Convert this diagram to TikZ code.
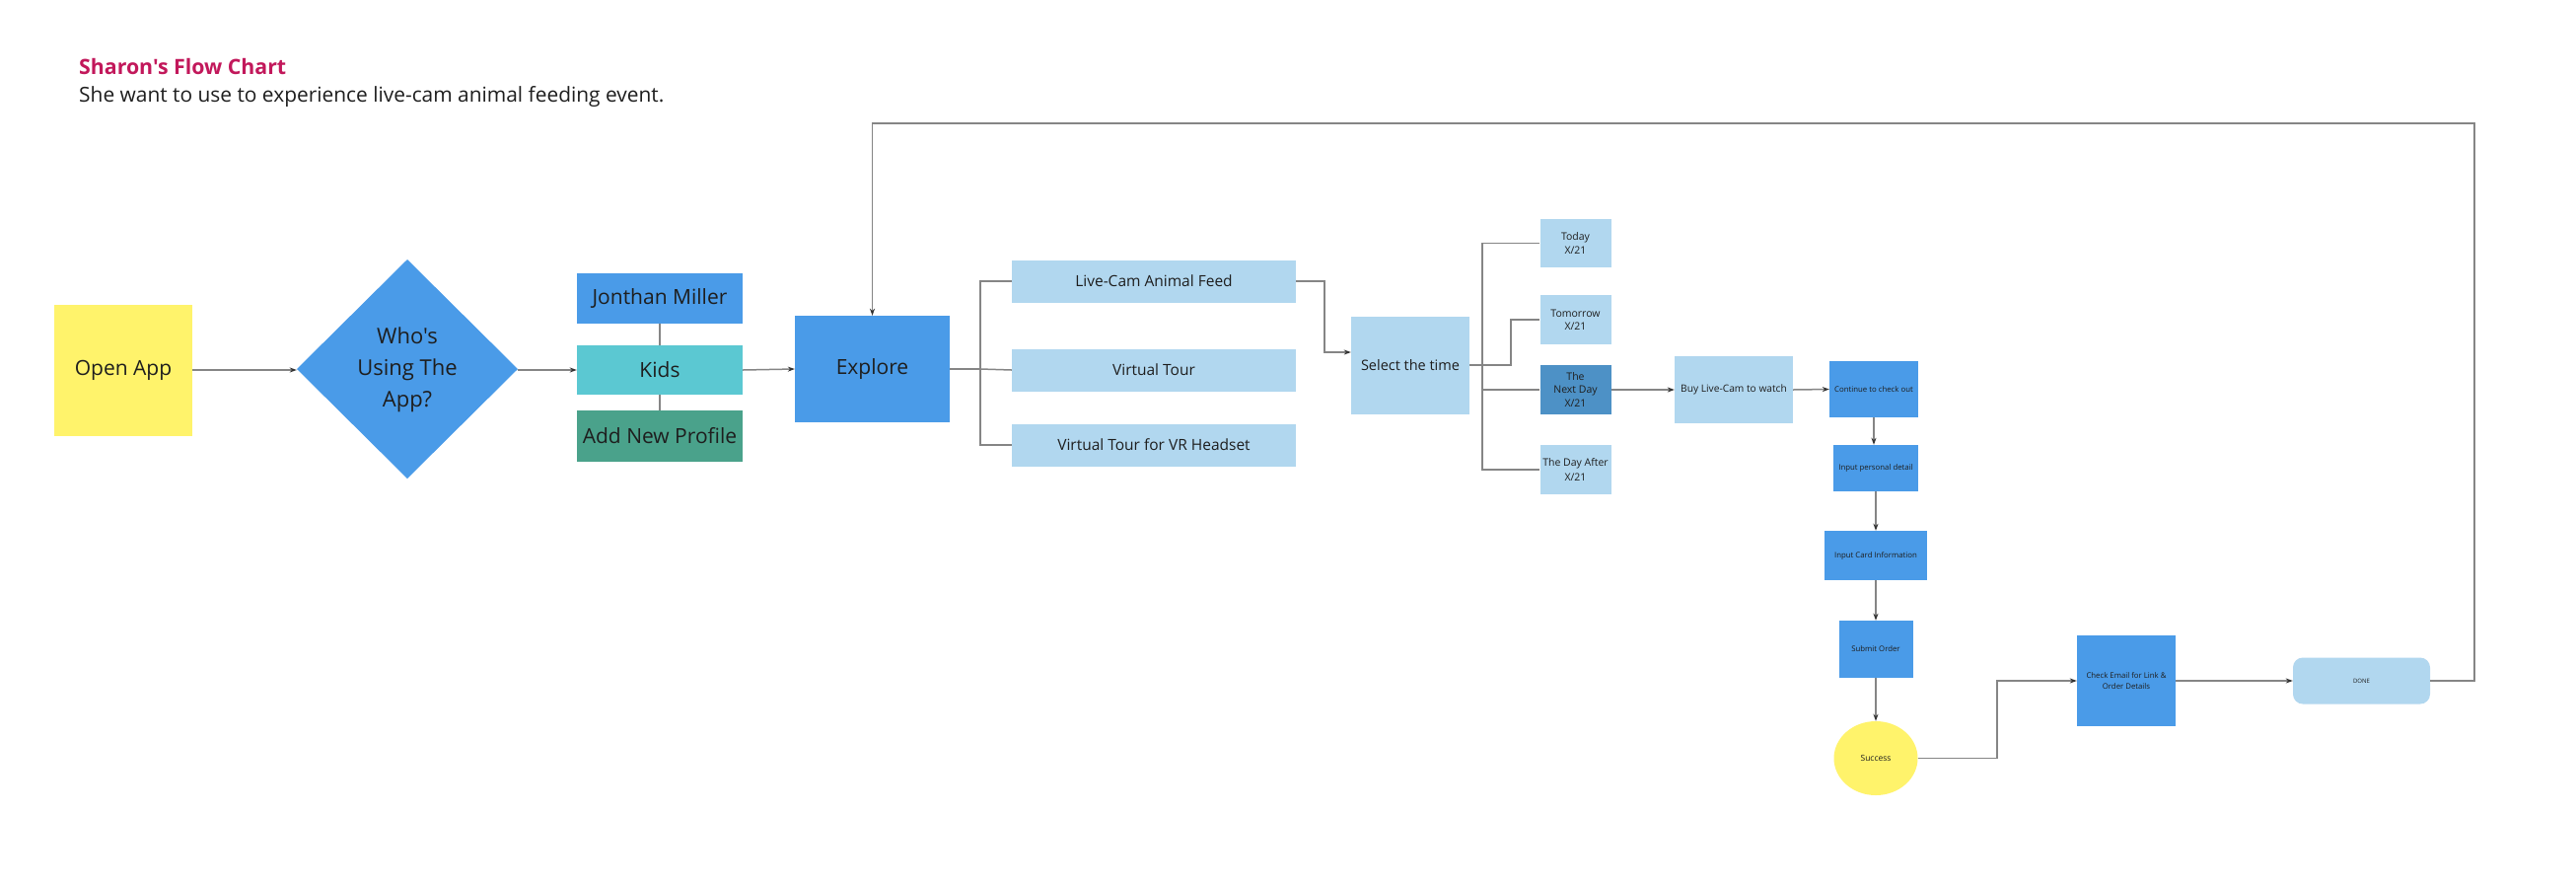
\documentclass[tikz,border=0pt]{standalone}
\usepackage{fontspec}
\setmainfont{Open Sans}
\usetikzlibrary{shapes.geometric,arrows.meta,calc}
\definecolor{yel}{HTML}{FFF36B}
\definecolor{blu}{HTML}{4A9BE8}
\definecolor{cya}{HTML}{5BC8D2}
\definecolor{grn}{HTML}{4AA28B}
\definecolor{lbl}{HTML}{B1D7EF}
\definecolor{dbl}{HTML}{4D91C6}
\definecolor{ttl}{HTML}{C2185B}
\definecolor{ln}{HTML}{858585}
\definecolor{txt}{HTML}{1E1E1E}
\newcommand{\fs}[2]{\fontsize{#1}{#2}\selectfont}
\newcommand{\straight}{\addfontfeature{Ligatures=TeXOff}}
\begin{document}
\begin{tikzpicture}[x=1pt,y=-1pt,
  box/.style={rectangle, inner sep=0pt, align=center, text=txt},
  conn/.style={draw=ln, line width=1.5pt},
  arr/.style={conn, -{Stealth[length=7pt,width=5pt,color=black!80]}}]
\useasboundingbox (0,0) rectangle (2612,898);
\fill[white] (0,0) rectangle (2612,898);

% title
\node[anchor=west, inner sep=0pt, text=ttl, font=\bfseries\fs{21.3}{25}\straight] (title) at (80,68) {Sharon's Flow Chart};
\node[anchor=west, inner sep=0pt, text=txt, font=\fs{20.9}{24}] (sub) at (80,98) {She want to use to experience live-cam animal feeding event.};

% left part
\node[box, fill=yel, minimum width=140pt, minimum height=133pt, font=\fs{21}{26}] (open) at (125,375) {Open App};
\fill[blu] (301,374) -- (413,263) -- (525,374) -- (413,485) -- cycle;
\node[box, minimum width=224pt, minimum height=222pt, font=\fs{22}{32}\straight] (who) at (413,375) {Who's\\Using The\\App?};
\node[box, fill=blu, minimum width=168pt, minimum height=51pt, font=\fs{21}{26}] (jon) at (669,302.5) {Jonthan Miller};
\node[box, fill=cya, minimum width=168pt, minimum height=50pt, font=\fs{21}{26}] (kids) at (669,375) {Kids};
\node[box, fill=grn, minimum width=168pt, minimum height=52pt, font=\fs{21}{26}] (add) at (669,442) {Add New Profile};
\node[box, fill=blu, minimum width=157pt, minimum height=108pt, font=\fs{21}{26}] (explore) at (884.5,374) {Explore};

% options
\node[box, fill=lbl, minimum width=288pt, minimum height=43pt, font=\fs{15.5}{19}] (live) at (1170,285) {Live-Cam Animal Feed};
\node[box, fill=lbl, minimum width=288pt, minimum height=43pt, font=\fs{15.5}{19}] (vt) at (1170,375) {Virtual Tour};
\node[box, fill=lbl, minimum width=288pt, minimum height=43pt, font=\fs{15.5}{19}] (vr) at (1170,451) {Virtual Tour for VR Headset};

% time selection
\node[box, fill=lbl, minimum width=120pt, minimum height=99pt, font=\fs{14.5}{18}] (select) at (1430,370) {Select the time};
\node[box, fill=lbl, minimum width=72pt, minimum height=49pt, font=\fs{10.5}{13.5}] (today) at (1597.5,246.5) {Today\\X/21};
\node[box, fill=lbl, minimum width=72pt, minimum height=50pt, font=\fs{10.5}{13.5}] (tomorrow) at (1597.5,324) {Tomorrow\\X/21};
\node[box, fill=dbl, minimum width=72pt, minimum height=50pt, font=\fs{10.5}{13.8}] (nextday) at (1597.5,395) {The\\Next Day\\X/21};
\node[box, fill=lbl, minimum width=72pt, minimum height=50pt, font=\fs{10.5}{14.5}] (dayafter) at (1597.5,476) {The Day After\\X/21};

% purchase
\node[box, fill=lbl, minimum width=120pt, minimum height=68pt, font=\fs{10.2}{13}] (buy) at (1758,395) {Buy Live-Cam to watch};
\node[box, fill=blu, minimum width=90pt, minimum height=57pt, font=\fs{7.8}{10}] (cont) at (1900,394.5) {Continue to check out};
\node[box, fill=blu, minimum width=86pt, minimum height=47pt, font=\fs{7.8}{10}] (pers) at (1902,474.5) {Input personal detail};
\node[box, fill=blu, minimum width=104pt, minimum height=50pt, font=\fs{7.8}{10}] (card) at (1902,563) {Input Card Information};
\node[box, fill=blu, minimum width=75pt, minimum height=58pt, font=\fs{7.8}{10}] (submit) at (1902,658) {Submit Order};
\node[ellipse, inner sep=0pt, fill=yel, text=txt, minimum width=85pt, minimum height=75pt, font=\fs{8.5}{10}] (success) at (1902,768.5) {Success};
\node[box, fill=blu, minimum width=100pt, minimum height=92pt, font=\fs{7.8}{10.3}] (check) at (2156,690) {Check Email for Link \&\\Order Details};
\node[box, fill=lbl, rounded corners=10pt, minimum width=139pt, minimum height=47pt, font=\fs{6}{8}] (done) at (2394.5,690) {DONE};

% connectors
\draw[arr] (open.east) -- (who.west);
\draw[arr] (who.east) -- (kids.west);
\draw[conn] (jon.south) -- (kids.north);
\draw[conn] (kids.south) -- (add.north);
\draw[arr] (kids.east) -- (explore.west);

\coordinate (bx) at (994,374);
\draw[conn] (explore.east) -- (bx);
\draw[conn] (bx) |- (live.west);
\draw[conn] (bx) -- (vt.west);
\draw[conn] (bx) |- (vr.west);

\coordinate (lc) at (1343,285);
\draw[arr] (live.east) -- (lc) |- ([yshift=13pt]select.west);

\coordinate (sx) at (1503,370);
\coordinate (tx) at (1532,370);
\draw[conn] (select.east) -- (tx) |- (tomorrow.west);
\draw[conn] (sx) |- (today.west);
\draw[conn] (sx) |- (dayafter.west);
\draw[conn] (sx |- nextday.west) -- (nextday.west);

\draw[arr] (nextday.east) -- (buy.west);
\draw[arr] (buy.east) -- (cont.west);
\draw[arr] (cont.south) -- (cont.south |- pers.north);
\draw[arr] (pers.south) -- (card.north);
\draw[arr] (card.south) -- (submit.north);
\draw[arr] (submit.south) -- (success.north);

\coordinate (sc) at (2025,768.5);
\draw[arr] (success.east) -- (sc) |- (check.west);
\draw[arr] (check.east) -- (done.west);

\coordinate (lr) at (2509,690);
\coordinate (lt) at (2509,125);
\draw[arr] (done.east) -- (lr) -- (lt) -| (explore.north);
\end{tikzpicture}
\end{document}
